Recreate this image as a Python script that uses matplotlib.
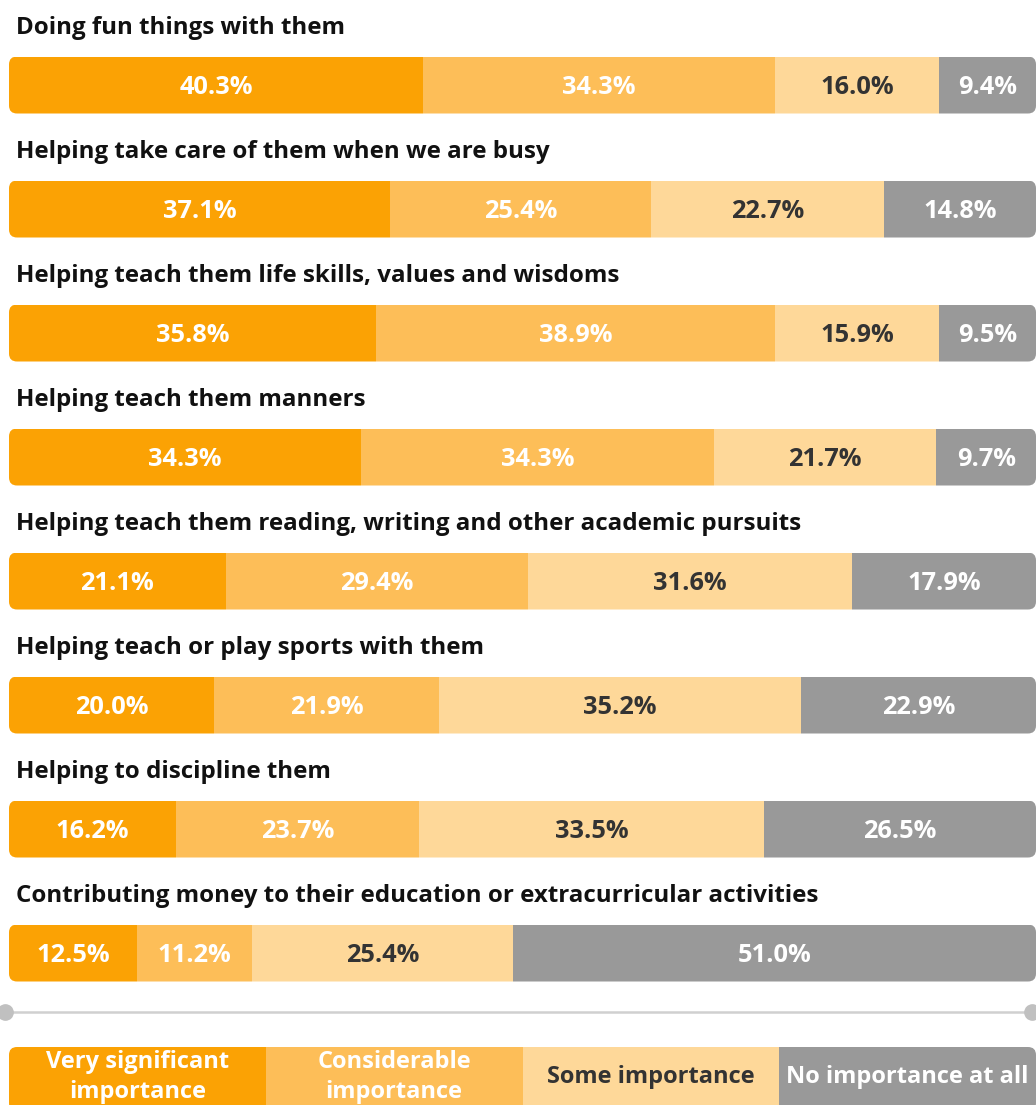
import matplotlib
matplotlib.use("Agg")
import matplotlib.pyplot as plt
from matplotlib.patches import FancyBboxPatch
import numpy as np

plt.rcParams['font.family'] = ['Open Sans', 'DejaVu Sans']

items = [
    "Doing fun things with them",
    "Helping take care of them when we are busy",
    "Helping teach them life skills, values and wisdoms",
    "Helping teach them manners",
    "Helping teach them reading, writing and other academic pursuits",
    "Helping teach or play sports with them",
    "Helping to discipline them",
    "Contributing money to their education or extracurricular activities",
]
very_significant = [40.3, 37.1, 35.8, 34.3, 21.1, 20.0, 16.2, 12.5]
considerable = [34.3, 25.4, 38.9, 34.3, 29.4, 21.9, 23.7, 11.2]
some = [16.0, 22.7, 15.9, 21.7, 31.6, 35.2, 33.5, 25.4]
none_at_all = [9.4, 14.8, 9.5, 9.7, 17.9, 22.9, 26.5, 51.0]
legend_labels = ["Very significant\nimportance", "Considerable\nimportance",
                 "Some importance", "No importance at all"]

colors = ["#FBA204", "#FDBE58", "#FED899", "#999999"]
text_colors = ["white", "white", "#333333", "white"]

W, H = 1036, 1105
fig = plt.figure(figsize=(W / 100, H / 100), dpi=100)
left_px, right_px = 9, 1036
ax = fig.add_axes([left_px / W, 0, (right_px - left_px) / W, 1])
ax.set_xlim(0, 100)
ax.set_ylim(H, 0)
ax.axis("off")

px_per_x = (right_px - left_px) / 100.0
r_px = 8
bar_h = 57
row0 = 85
step = 124

series = [very_significant, considerable, some, none_at_all]
fs_lab = 18.3
fs_title = 17.4
fs_leg = 17.0


def rounded_clip(x, y, w, h):
    p = FancyBboxPatch((x, y), w, h,
                       boxstyle=f"round,pad=0,rounding_size={r_px / px_per_x}",
                       mutation_aspect=px_per_x,
                       transform=ax.transData, facecolor="none", edgecolor="none")
    ax.add_patch(p)
    return p


for i, name in enumerate(items):
    yc = row0 + step * i
    vals = [s[i] for s in series]
    total = sum(vals)
    vals = [v * 100.0 / total for v in vals]
    clip = rounded_clip(0, yc - bar_h / 2, 100, bar_h)
    lefts = np.cumsum([0] + vals[:-1])
    bars = ax.barh([yc] * 4, vals, left=lefts, height=bar_h, color=colors, linewidth=0)
    for b in bars:
        b.set_clip_path(clip)
    for j, (l, v) in enumerate(zip(lefts, vals)):
        ax.text(l + v / 2, yc + 2.5, f"{series[j][i]:.1f}%", ha="center", va="center",
                fontsize=fs_lab, fontweight="bold", color=text_colors[j])
    ax.text(7 / px_per_x, yc - 57.5, name, ha="left", va="center",
            fontsize=fs_title, fontweight="bold", color="#111111")

# divider line with end circles
ly = 1012
x0 = -4 / px_per_x
x1 = (1032 - left_px) / px_per_x
ax.plot([x0, x1], [ly, ly], color="#D0D0D0", lw=1.8, clip_on=False, zorder=1)
ax.plot([x0, x1], [ly, ly], "o", color="#C0C0C0", ms=11, clip_on=False, zorder=2)

# legend
leg_top = 1047
leg_h = 64
legclip = rounded_clip(0, leg_top, 100, leg_h)
lw_ = 100 / len(legend_labels)
lb = ax.barh([leg_top + leg_h / 2] * 4, [lw_] * 4, left=[k * lw_ for k in range(4)],
             height=leg_h, color=colors, linewidth=0)
for b in lb:
    b.set_clip_path(legclip)
for k, lab in enumerate(legend_labels):
    ax.text(k * lw_ + lw_ / 2, leg_top + 30, lab, ha="center", va="center",
            fontsize=fs_leg, fontweight="bold", color=text_colors[k], linespacing=1.3)

fig.savefig("out.png", dpi=100)
